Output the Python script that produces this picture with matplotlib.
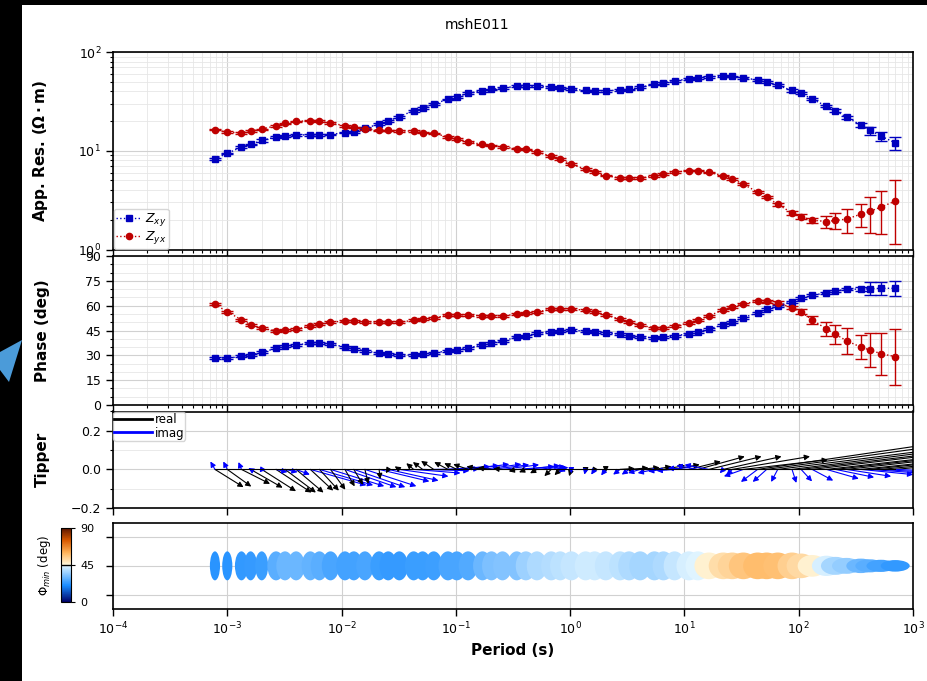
import numpy as np
import matplotlib
matplotlib.use('Agg')
import matplotlib.pyplot as plt
from matplotlib.patches import FancyArrowPatch, Rectangle, Polygon
from matplotlib.collections import EllipseCollection
from matplotlib.colors import LinearSegmentedColormap, Normalize
from matplotlib.lines import Line2D
from matplotlib.ticker import MultipleLocator, NullLocator, NullFormatter, FixedLocator

station = 'mshE011'

periods = [7.8e-4,
           1.0e-3, 1.33e-3, 1.6e-3, 2.0e-3, 2.67e-3, 3.2e-3, 4.0e-3, 5.33e-3, 6.4e-3,
           8.0e-3, 1.07e-2, 1.28e-2, 1.6e-2, 2.13e-2, 2.56e-2, 3.2e-2, 4.27e-2, 5.12e-2,
           6.4e-2, 8.53e-2, 0.102, 0.128, 0.171, 0.205, 0.256, 0.341, 0.41,
           0.512, 0.683, 0.819, 1.024, 1.365, 1.638, 2.048, 2.731, 3.277,
           4.096, 5.461, 6.554, 8.192, 10.92, 13.11, 16.38, 21.85, 26.21,
           32.77, 43.69, 52.43, 65.54, 87.38, 104.9, 131.1, 174.8, 209.7,
           262.1, 349.5, 419.4, 524.3, 699.1]

# apparent resistivity (ohm m)
rho_xy = [8.3, 9.4, 10.9, 11.6, 12.7, 13.8, 14.0, 14.4, 14.5, 14.5,
          14.6, 15.3, 15.5, 16.9, 18.6, 20.0, 22.2, 25.4, 27.2, 29.9,
          33.1, 35.2, 38.1, 40.5, 41.8, 43.2, 44.9, 44.9, 44.9, 44.2,
          43.3, 42.1, 40.8, 40.5, 40.5, 41.1, 41.8, 43.9, 47.0, 48.8,
          50.8, 53.6, 54.8, 56.1, 57.0, 56.6, 54.8, 52.0, 49.5, 45.9,
          40.8, 38.1, 33.3, 28.3, 25.4, 21.9, 18.2, 16.1, 14.1, 12.0]
rho_xy_err = [0.2, 0.2, 0.2, 0.2, 0.3, 0.3, 0.3, 0.3, 0.3, 0.3,
              0.3, 0.3, 0.3, 0.4, 0.4, 0.4, 0.5, 0.5, 0.6, 0.6,
              0.7, 0.7, 0.8, 0.8, 0.8, 0.9, 0.9, 0.9, 0.9, 0.9,
              0.9, 0.8, 0.8, 0.8, 0.8, 0.8, 0.8, 0.9, 0.9, 1.0,
              1.0, 1.1, 1.1, 1.1, 1.2, 1.2, 1.2, 1.1, 1.1, 1.0,
              1.0, 0.9, 0.9, 0.8, 0.8, 0.7, 0.9, 1.5, 1.5, 1.9]
rho_yx = [16.4, 15.4, 15.2, 15.8, 16.5, 18.0, 18.9, 19.8, 20.2, 19.9,
          19.0, 18.0, 17.3, 16.7, 16.1, 16.1, 15.9, 15.8, 15.3, 15.0,
          13.8, 13.2, 12.3, 11.6, 11.3, 10.9, 10.5, 10.3, 9.7, 8.8,
          8.2, 7.3, 6.5, 6.05, 5.6, 5.3, 5.26, 5.3, 5.55, 5.8,
          6.05, 6.3, 6.3, 6.05, 5.6, 5.2, 4.57, 3.82, 3.4, 2.86,
          2.35, 2.15, 1.98, 1.92, 1.97, 2.03, 2.28, 2.43, 2.69, 3.09]
rho_yx_err = [0.3, 0.3, 0.3, 0.3, 0.3, 0.4, 0.4, 0.4, 0.4, 0.4,
              0.4, 0.4, 0.3, 0.3, 0.3, 0.3, 0.3, 0.3, 0.3, 0.3,
              0.3, 0.3, 0.3, 0.2, 0.2, 0.2, 0.2, 0.2, 0.2, 0.2,
              0.2, 0.15, 0.13, 0.12, 0.11, 0.11, 0.11, 0.11, 0.12, 0.12,
              0.13, 0.13, 0.12, 0.11, 0.1, 0.1, 0.09, 0.09, 0.08, 0.08,
              0.1, 0.12, 0.12, 0.25, 0.35, 0.57, 0.58, 0.95, 1.25, 1.95]

# phase (deg)
phase_xy = [28.2, 28.2, 29.4, 30.2, 31.8, 34.2, 35.4, 36.4, 37.2, 37.2,
            36.6, 35.2, 34.0, 32.8, 31.2, 30.6, 30.2, 30.2, 30.6, 31.4,
            32.8, 33.4, 34.6, 36.2, 37.4, 38.8, 40.9, 41.8, 43.3, 44.3,
            44.8, 45.1, 44.7, 44.3, 43.7, 42.7, 41.7, 41.1, 40.6, 40.9,
            41.7, 43.1, 44.3, 45.9, 48.5, 50.1, 52.7, 55.8, 57.8, 60.0,
            62.4, 64.4, 66.2, 67.8, 68.8, 69.9, 70.0, 70.2, 70.5, 70.5]
phase_xy_err = [0.6] * 56 + [1.2, 3.8, 3.8, 4.6]
phase_yx = [60.8, 56.3, 51.5, 48.5, 46.3, 44.9, 45.1, 45.9, 47.7, 48.9,
            50.1, 50.7, 50.7, 50.3, 50.1, 49.9, 50.1, 51.1, 51.9, 52.7,
            54.2, 54.5, 54.3, 53.9, 53.7, 53.9, 54.8, 55.4, 56.3, 57.8,
            58.1, 58.0, 57.2, 56.3, 54.3, 51.9, 50.1, 48.1, 46.7, 46.5,
            47.5, 49.7, 51.3, 53.9, 57.4, 59.4, 61.2, 62.6, 62.6, 61.8,
            58.8, 56.2, 51.5, 45.9, 42.7, 38.8, 35.0, 33.2, 31.0, 29.2]
phase_yx_err = [0.6] * 48 + [1.0, 1.0, 1.0, 1.5, 2.3, 4.3, 5.8, 7.7, 7.5, 10.4, 12.6, 17.0]

# induction arrows (x component in decades, y component)
tip_re_x = [0.25, 0.21, 0.25, 0.28, 0.30, 0.31, 0.27, 0.24, 0.20, 0.17,
            0.13, 0.085, 0.08, 0.03, 0.01, -0.02, -0.04, -0.064, -0.085, -0.11,
            -0.12, -0.11, -0.13, -0.14, -0.12, -0.08, -0.07, -0.06, -0.06, -0.06,
            -0.05, -0.02, 0.0, -0.02, 0.0, 0.13, 0.17, 0.17, 0.15, 0.19,
            0.22, 0.28, 0.41, 0.46, 0.51, 0.68, 0.74, 1.5, 1.6, 1.6,
            1.6, 1.7, 1.7, 1.8, 1.8, 1.8, 1.8, 1.8, 1.8, 1.8]
tip_re_y = [-0.092, -0.089, -0.075, -0.095, -0.113, -0.12, -0.12, -0.12, -0.110, -0.110,
            -0.105, -0.088, -0.08, -0.075, -0.05, -0.02, 0.016, 0.032, 0.038, 0.044,
            0.038, 0.032, 0.027, 0.015, 0.008, 0.004, -0.01, -0.015, -0.02, -0.035,
            -0.03, -0.035, -0.02, -0.02, -0.015, 0.005, 0.008, 0.01, 0.015, 0.02,
            0.025, 0.041, 0.067, 0.067, 0.067, 0.067, 0.05, 0.13, 0.13, 0.12,
            0.12, 0.12, 0.12, 0.12, 0.12, 0.12, 0.11, 0.11, 0.10, 0.10]
tip_im_x = [-0.04, -0.035, -0.026, -0.02, 0.04, 0.10, 0.11, 0.12, 0.49, 0.47,
            0.47, 0.45, 0.45, 0.45, 0.44, 0.44, 0.43, 0.41, 0.41, 0.40,
            0.37, 0.37, 0.36, 0.34, 0.33, 0.32, 0.33, 0.3, 0.25, 0.15,
            0.05, 0.0, -0.01, -0.03, -0.04, -0.06, -0.064, -0.105, -0.146, -0.134,
            -0.157, -0.184, -0.187, -0.213, -0.03, -0.05, -0.17, -0.146, -0.122, -0.058,
            0.038, 0.096, 0.184, 0.283, 0.338, 0.39, 0.458, 0.5, 0.55, 0.6]
tip_im_y = [0.041, 0.041, 0.038, 0.007, -0.002, -0.014, -0.014, -0.027, -0.082, -0.082,
            -0.087, -0.092, -0.092, -0.087, -0.062, -0.058, -0.036, -0.019, -0.007, 0.003,
            0.015, 0.02, 0.027, 0.027, 0.024, 0.024, 0.015, 0.02, 0.015, 0.01,
            -0.01, -0.02, -0.027, -0.027, -0.031, -0.027, -0.027, -0.019, -0.019, -0.01,
            -0.007, 0.007, 0.02, 0.024, -0.02, -0.03, -0.036, -0.065, -0.065, -0.065,
            -0.07, -0.062, -0.058, -0.048, -0.041, -0.036, -0.027, -0.022, -0.02, -0.015]

# phase tensor ellipses
pt_phimin = [22, 22, 23, 23.5, 24, 28, 30, 30, 29, 28,
             26, 25, 25, 26, 24, 23.5, 23.5, 24, 24, 24.5,
             26, 26, 27, 30, 32, 33, 33, 36, 38, 39,
             40, 41, 42, 42, 41, 40, 38, 37, 37, 38,
             41, 43, 44, 47, 51, 53, 56, 58, 58, 57,
             54, 52, 47, 43, 37, 35, 30, 28, 25, 23]
pt_ratio = [0.35, 0.35, 0.45, 0.45, 0.45, 0.6, 0.6, 0.6, 0.6, 0.6,
            0.6, 0.6, 0.6, 0.6, 0.6, 0.6, 0.6, 0.6, 0.6, 0.6,
            0.65, 0.65, 0.65, 0.65, 0.65, 0.65, 0.65, 0.7, 0.7, 0.7,
            0.7, 0.75, 0.75, 0.75, 0.75, 0.75, 0.75, 0.75, 0.75, 0.75,
            0.75, 0.85, 0.85, 0.92, 0.92, 0.92, 0.92, 0.92, 0.92, 0.92,
            0.92, 0.85, 0.75, 0.7, 0.62, 0.55, 0.5, 0.45, 0.42, 0.4]
pt_azimuth = [0] * 43 + [90] * 17

blue = (0.0, 0.0, 0.75)
red = (0.75, 0.0, 0.0)
W, H = 927, 681

pt_cmap = LinearSegmentedColormap.from_list('bl2wh2or', [
    (0.0, (0.0, 0.0, 0.4)),
    (0.222, (0.1, 0.55, 1.0)),
    (0.499, (0.9, 0.97, 1.0)),
    (0.501, (1.0, 0.98, 0.88)),
    (0.667, (1.0, 0.7, 0.35)),
    (0.833, (0.85, 0.35, 0.0)),
    (1.0, (0.35, 0.08, 0.0))])


def px_axes(left, top, right, bottom):
    return fig.add_axes([left / W, 1 - bottom / H, (right - left) / W, (bottom - top) / H])


def style_axes(ax, minor_x=True):
    ax.set_xscale('log')
    ax.set_xlim(1e-4, 1e3)
    if not minor_x:
        ax.xaxis.set_minor_locator(NullLocator())
    ax.tick_params(which='major', direction='out', length=5, width=1, labelsize=9)
    ax.tick_params(which='minor', direction='out', length=2.5, width=0.8)
    ax.grid(True, which='major', color='0.82', lw=0.8)
    ax.grid(True, which='minor', color='0.9', lw=0.6)
    ax.set_axisbelow(True)
    for sp in ax.spines.values():
        sp.set_linewidth(1.2)


fig = plt.figure(figsize=(W / 100, H / 100), dpi=100, facecolor='black')
fig.add_artist(Rectangle((22 / W, 0), 1, 1 - 5 / H, transform=fig.transFigure,
                         facecolor='white', edgecolor='none', zorder=-10))
fig.add_artist(Polygon([(22 / W, 1 - 340 / H), (9 / W, 1 - 382 / H), (0, 1 - 370 / H), (0, 1 - 352 / H)],
                       closed=True, transform=fig.transFigure, facecolor='#4b9bd9', edgecolor='none'))

ax1 = px_axes(113, 52, 913, 249.5)
ax2 = px_axes(113, 256, 913, 405)
ax3 = px_axes(113, 411.5, 913, 508)
ax4 = px_axes(113, 522.7, 913, 609)
cax = px_axes(61, 528, 71, 602)

# resistivity
style_axes(ax1)
eb1 = ax1.errorbar(periods, rho_xy, yerr=rho_xy_err, marker='s', ms=4.5, ls=':', lw=1,
                   color=blue, ecolor=blue, capsize=4, elinewidth=1)
eb2 = ax1.errorbar(periods, rho_yx, yerr=rho_yx_err, marker='o', ms=4.5, ls=':', lw=1,
                   color=red, ecolor=red, capsize=4, elinewidth=1)
ax1.set_yscale('log')
ax1.set_ylim(1, 100)
ax1.xaxis.set_major_formatter(NullFormatter())
ax1.xaxis.set_minor_formatter(NullFormatter())
ax1.tick_params(which='minor', direction='out', length=2.5, width=0.8)
ax1.grid(True, which='minor', color='0.9', lw=0.6)
ax1.set_ylabel('App. Res. ($\\mathbf{\\Omega \\cdot m}$)', fontsize=11, fontweight='bold')
ax1.yaxis.set_label_coords(-0.079, 0.5)
ax1.legend([eb1[0], eb2[0]], ['$Z_{xy}$', '$Z_{yx}$'], loc='lower left', fontsize=9,
           borderaxespad=0.05, borderpad=0.2, labelspacing=0.1, handletextpad=0.3,
           handlelength=2.0, framealpha=0.8)

# phase
style_axes(ax2)
ax2.errorbar(periods, phase_xy, yerr=phase_xy_err, marker='s', ms=4.5, ls=':', lw=1,
             color=blue, ecolor=blue, capsize=4, elinewidth=1)
ax2.errorbar(periods, phase_yx, yerr=phase_yx_err, marker='o', ms=4.5, ls=':', lw=1,
             color=red, ecolor=red, capsize=4, elinewidth=1)
ax2.set_ylim(0, 90)
ax2.yaxis.set_major_locator(MultipleLocator(15))
ax2.yaxis.set_minor_locator(MultipleLocator(5))
ax2.xaxis.set_major_formatter(NullFormatter())
ax2.xaxis.set_minor_formatter(NullFormatter())
ax2.set_ylabel('Phase (deg)', fontsize=11, fontweight='bold')
ax2.yaxis.set_label_coords(-0.079, 0.5)

# tipper
style_axes(ax3, minor_x=False)
ax3.plot([periods[0], periods[-1]], [0, 0], color='k', lw=0.8)
for i, per in enumerate(periods):
    for tx, ty, col in [(tip_re_x[i], tip_re_y[i], 'k'), (tip_im_x[i], tip_im_y[i], (0, 0, 1))]:
        arr = FancyArrowPatch((per, 0), (per * 10 ** tx, ty), arrowstyle='-|>',
                              mutation_scale=8, lw=0.8, color=col, shrinkA=0, shrinkB=0)
        ax3.add_patch(arr)
ax3.set_ylim(-0.2, 0.3)
ax3.yaxis.set_major_locator(MultipleLocator(0.2))
ax3.yaxis.set_minor_locator(MultipleLocator(0.1))
ax3.xaxis.set_major_formatter(NullFormatter())
ax3.set_ylabel('Tipper', fontsize=11, fontweight='bold')
ax3.yaxis.set_label_coords(-0.079, 0.5)
ax3.legend([Line2D([], [], color='k', lw=2), Line2D([], [], color=(0, 0, 1), lw=2)],
           ['real', 'imag'], loc='upper left', fontsize=8.5, borderaxespad=0.02,
           borderpad=0.1, labelspacing=0.05, handletextpad=0.2, handlelength=3.2,
           framealpha=0.8)

# phase tensor
style_axes(ax4, minor_x=False)
size = 29
ells = EllipseCollection([size * r for r in pt_ratio], [size] * len(pt_ratio), pt_azimuth,
                         units='dots', offsets=list(zip(periods, [0] * len(periods))),
                         offset_transform=ax4.transData, edgecolors='none', zorder=3)
ells.set_array(np.array(pt_phimin, dtype=float))
ells.set_cmap(pt_cmap)
ells.set_norm(Normalize(0, 90))
ax4.add_collection(ells)
ax4.set_ylim(-1.5, 1.5)
ax4.yaxis.set_major_locator(FixedLocator([-1, 0, 1]))
ax4.yaxis.set_major_formatter(NullFormatter())
ax4.set_xlabel('Period (s)', fontsize=11, fontweight='bold')

cb = fig.colorbar(ells, cax=cax, ticks=[0, 45, 90])
cb.ax.tick_params(labelsize=8, length=3)
cb.ax.axhline(45, color='k', lw=1)
cb.ax.yaxis.set_label_position('left')
cb.set_label('$\\Phi_{min}$ (deg)', fontsize=8.5, labelpad=6)

fig.text(477 / W, 1 - 25 / H, station, ha='center', va='center', fontsize=10)

fig.savefig('out.png', dpi=100, facecolor=fig.get_facecolor())
